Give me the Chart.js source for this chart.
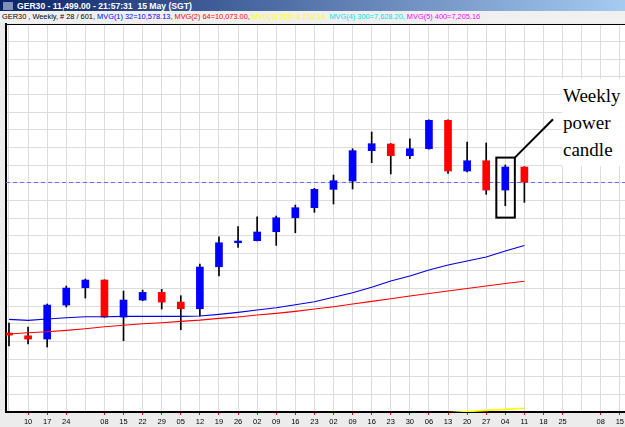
<!DOCTYPE html>
<html>
<head>
<meta charset="utf-8">
<script src="https://cdn.jsdelivr.net/npm/chart.js@4"></script>
<style>
  html, body { margin: 0; padding: 0; width: 625px; height: 427px; overflow: hidden; background: #ececec; font-family: "Liberation Sans", Arial, sans-serif; }
  #titlebar { position: absolute; left: 0; top: 0; width: 625px; height: 11px; background: linear-gradient(to right, #0a246a, #a6caf0); color: #fff; font-weight: bold; font-size: 8.6px; line-height: 11px; white-space: nowrap; }
  #titlebar .icon { position: absolute; left: 3px; top: 2px; width: 10px; height: 8px; background: #7f8fb8; }
  #titlebar .txt { position: absolute; left: 17px; top: 1px; }
  #legend { position: absolute; left: 0; top: 11px; width: 625px; height: 12px; background: #f0f0f0; font-size: 7.4px; line-height: 12px; white-space: nowrap; padding-left: 2px; }
  #wrap { position: absolute; left: 0; top: 23px; width: 660px; height: 404px; }
  #note { position: absolute; left: 562px; top: 79px; width: 70px; height: 84px; padding-top: 3px; background: #fff; font-family: "Liberation Serif", "Times New Roman", serif; font-size: 19px; line-height: 27px; color: #000; padding-left: 1px; }
</style>
</head>
<body>
<div id="titlebar"><div class="icon"></div><div class="txt">GER30 - 11,499.00 - 21:57:31&nbsp; 15 May (SGT)</div></div>
<div id="legend"><span style="color:#000">GER30 , Weekly, # 28 / 601,</span> <span style="color:#0000ff">MVG(1) 32=10,578.13,</span> <span style="color:#ff0000">MVG(2) 64=10,073.00,</span> <span style="color:#ffff00">MVG(3) 200=8,258.14,</span> <span style="color:#00e0e0">MVG(4) 300=7,628.20,</span> <span style="color:#ff00ff">MVG(5) 400=7,205.16</span></div>
<div id="wrap"><canvas id="chart" width="660" height="404"></canvas></div>
<div id="note">Weekly<br>power<br>candle</div>
<script>
// weekly bars, oldest first
const weekLabels = ['', '10', '17', '24', '', '08', '15', '22', '29', '05', '12', '19', '26', '02', '09', '16', '23',
  '02', '09', '16', '23', '30', '06', '13', '20', '27', '04', '11', '18', '25', '', '08', '15']

const opens  = [9336, 9297, 9250, 9737, 9985, 10096, 9565, 9809, 9919, 9780, 9684, 10286, 10630, 10659,
  10788, 10988, 11132, 11395, 11514, 11949, 12045, 11877, 11977, 12384, 11658, 11805, 11385, 11715]
const highs  = [9480, 9422, 9752, 10010, 10110, 10100, 9938, 9952, 9962, 9871, 10325, 10716, 10860, 11003,
  11013, 11170, 11410, 11600, 11977, 12217, 12050, 12120, 12390, 12390, 12073, 12059, 11744, 11720]
const lows   = [9150, 9179, 9136, 9709, 9838, 9560, 9226, 9799, 9680, 9383, 9580, 10153, 10564, 10655,
  10593, 10773, 11066, 11185, 11400, 11777, 11615, 11834, 11970, 11625, 11643, 11324, 11160, 11209]
const closes = [9307, 9250, 9737, 9981, 10096, 9565, 9809, 9919, 9780, 9684, 10282, 10630, 10655, 10784,
  10988, 11132, 11395, 11519, 11949, 12049, 11877, 11977, 12384, 11658, 11805, 11385, 11715, 11499]

// moving averages
const mvg32  = [9532, 9518, 9537, 9555, 9570, 9570, 9575, 9575, 9575, 9575, 9580, 9604, 9633, 9666,
  9699, 9742, 9785, 9848, 9914, 9991, 10081, 10153, 10239, 10311, 10368, 10425, 10511, 10590]
const mvg64  = [9322, 9340, 9355, 9375, 9398, 9426, 9447, 9469, 9484, 9504, 9522, 9547, 9565, 9594,
  9618, 9647, 9680, 9713, 9752, 9790, 9828, 9866, 9902, 9938, 9974, 10010, 10046, 10078]
const mvg200 = [null, null, null, null, null, null, null, null, null, null, null, null, null, null,
  null, null, null, null, null, null, null, null, 8180, 8195, 8212, 8228, 8243, 8258]

const lastPrice = 11499
const markIndex = 26 // the "weekly power candle"

const pts = arr => arr.map((v, i) => ({ x: i, y: v }))

const framePlugin = {
  id: 'frame',
  beforeDraw(chart) {
    const { ctx, chartArea: a } = chart
    ctx.save()
    ctx.fillStyle = '#ffffff'
    ctx.fillRect(a.left, a.top, a.right - a.left, a.bottom - a.top)
    ctx.restore()
  },
  beforeDatasetsDraw(chart) {
    const { ctx, chartArea: a, scales: { y } } = chart
    const py = Math.round(y.getPixelForValue(lastPrice)) + 0.5
    ctx.save()
    ctx.strokeStyle = '#6b6bff'
    ctx.lineWidth = 1
    ctx.setLineDash([4, 3])
    ctx.beginPath()
    ctx.moveTo(a.left, py)
    ctx.lineTo(a.right, py)
    ctx.stroke()
    ctx.restore()
  },
  afterDatasetsDraw(chart) {
    const { ctx, chartArea: a, scales: { x, y } } = chart
    ctx.save()
    // top border
    ctx.strokeStyle = '#000'
    ctx.lineWidth = 1
    ctx.beginPath()
    ctx.moveTo(a.left, a.top + 0.5)
    ctx.lineTo(a.right, a.top + 0.5)
    ctx.stroke()
    // box round the marked candle
    const x0 = x.getPixelForValue(markIndex - 0.47)
    const x1 = x.getPixelForValue(markIndex + 0.5)
    const y0 = y.getPixelForValue(11850)
    const y1 = y.getPixelForValue(10990)
    ctx.lineWidth = 2
    ctx.strokeRect(x0, y0, x1 - x0, y1 - y0)
    // callout line
    ctx.beginPath()
    ctx.moveTo(x1, y0)
    ctx.lineTo(x.getPixelForValue(markIndex + 2.5), y.getPixelForValue(12400))
    ctx.stroke()
    ctx.restore()
  }
}

new Chart(document.getElementById('chart'), {
  type: 'bar',
  data: {
    datasets: [
      { type: 'line', data: pts(mvg32), borderColor: '#0000e0', borderWidth: 1.1, pointRadius: 0, tension: 0, order: 0 },
      { type: 'line', data: pts(mvg64), borderColor: '#ff0000', borderWidth: 1.1, pointRadius: 0, tension: 0, order: 0 },
      { type: 'line', data: pts(mvg200), borderColor: '#ffff00', borderWidth: 1.6, pointRadius: 0, tension: 0, order: 0, clip: 0, spanGaps: false },
      {
        data: opens.map((o, i) => ({ x: i, y: [o, closes[i]] })),
        backgroundColor: opens.map((o, i) => closes[i] >= o ? '#0000ff' : '#ff0000'),
        borderWidth: 0, barThickness: 7, grouped: false, order: 1
      },
      {
        data: lows.map((l, i) => ({ x: i, y: [l, highs[i]] })),
        backgroundColor: '#000000',
        borderWidth: 0, barThickness: 1, grouped: false, order: 2
      }
    ]
  },
  options: {
    responsive: false,
    animation: false,
    devicePixelRatio: 1,
    layout: { padding: { left: 6, top: 1, right: 0, bottom: 0 } },
    plugins: { legend: { display: false }, tooltip: { enabled: false } },
    scales: {
      x: {
        type: 'linear',
        min: -0.157,
        max: 34.1,
        offset: false,
        afterFit(scale) { scale.height = 15 },
        grid: {
          offset: false,
          color: '#dcdcdc',
          lineWidth: 1,
          tickLength: 3,
          tickColor: ctx => (ctx.tick && weekLabels[ctx.tick.value]) ? '#ff0000' : 'rgba(0,0,0,0)'
        },
        border: { display: true, color: '#000000', width: 2 },
        ticks: {
          stepSize: 1,
          includeBounds: false,
          autoSkip: false,
          maxRotation: 0,
          padding: 2,
          color: '#000000',
          font: { family: 'Liberation Sans', size: 7.5 },
          callback: v => weekLabels[v] ?? ''
        }
      },
      y: {
        min: 8205,
        max: 13764,
        afterFit(scale) { scale.width = 0 },
        grid: { color: '#dcdcdc', lineWidth: 1, drawTicks: false },
        border: { display: true, color: '#000000', width: 2 },
        ticks: { display: false, stepSize: 250, includeBounds: false }
      }
    }
  },
  plugins: [framePlugin]
})
</script>
</body>
</html>
